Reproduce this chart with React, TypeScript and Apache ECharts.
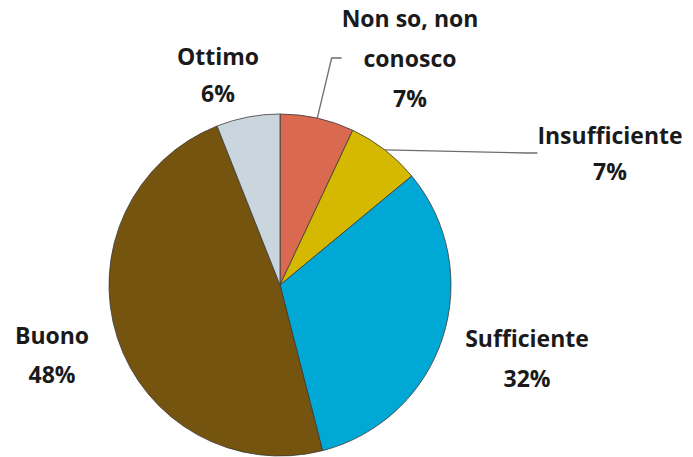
import React, { useEffect, useRef } from "react";
import * as echarts from "echarts";

const categories = ["Non so, non conosco", "Insufficiente", "Sufficiente", "Buono", "Ottimo"];
const values = [7, 7, 32, 48, 6];
const colors = ["#D96A50", "#D4B900", "#00A8D6", "#755410", "#CAD6DE"];
// label block centres (layout only)
const labelPos: [number, number][] = [
  [410, 58],
  [610, 153],
  [527, 358],
  [52, 354],
  [218, 74],
];
const lineHeights = [40, 36, 40, 39, 37];
const showLine = [true, true, false, false, false];

export default function App() {
  const ref = useRef<HTMLDivElement>(null);
  useEffect(() => {
    if (!ref.current) return;
    const chart = echarts.init(ref.current, null, { renderer: "svg" });
    chart.setOption({
      animation: false,
      backgroundColor: "#ffffff",
      series: [
        {
          type: "pie",
          center: [280, 285],
          radius: 171,
          startAngle: 90,
          clockwise: true,
          avoidLabelOverlap: false,
          itemStyle: { borderColor: "#3a3a3a", borderWidth: 0.8 },
          label: {
            show: true,
            position: "outside",
            formatter: (p: any) =>
              p.name.replace(", non conosco", ", non\nconosco") + "\n" + p.value + "%",
            fontFamily: "Open Sans",
            fontWeight: "bold",
            fontSize: 23,
            lineHeight: 39,
            color: "#1a1a1a",
            align: "center",
          },
          labelLine: {
            show: true,
            length: 10,
            length2: 10,
            lineStyle: { color: "#6e6e6e", width: 1.3 },
          },
          labelLayout: (params: any) => {
            const [x, y] = labelPos[params.dataIndex];
            return { x, y, align: "center", verticalAlign: "middle" };
          },
          data: categories.map((name, i) => ({
            name,
            value: values[i],
            itemStyle: { color: colors[i] },
            label: { lineHeight: lineHeights[i] },
            labelLine: { show: showLine[i] },
          })),
        },
      ],
    });
    return () => chart.dispose();
  }, []);
  return (
    <div
      ref={ref}
      style={{ position: "fixed", left: 0, top: 0, width: 693, height: 457 }}
    />
  );
}
